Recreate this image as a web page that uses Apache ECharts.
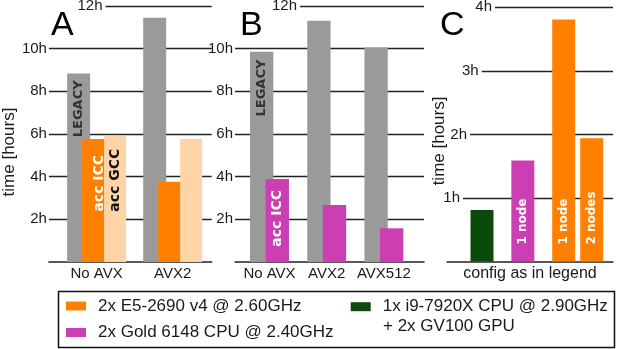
<!DOCTYPE html>
<html>
<head>
<meta charset="utf-8">
<script src="https://cdn.jsdelivr.net/npm/echarts@6/dist/echarts.min.js"></script>
<style>
html,body{margin:0;padding:0;background:#fff;}
#main{width:617px;height:349px;}
</style>
</head>
<body>
<div id="main"></div>
<script>
// panel A (2x E5-2690 v4)
const aCats = ['No AVX', 'AVX2'];
const aLegacy = [8.84, 11.45];
const aIcc = [5.77, 3.76];
const aGcc = [5.92, 5.77];
// panel B (2x Gold 6148)
const bCats = ['No AVX', 'AVX2', 'AVX512'];
const bLegacy = [9.86, 11.31, 10.05];
const bIcc = [3.89, 2.67, 1.58];
// panel C (best of each config)
const cCats = ['gpu', 'gold', 'e5'];
const cGpu = [0.81];
const cGold = [1.59];
const cE5 = [3.81, 1.94]; // 1 node, 2 nodes
const cTicks = [1, 2, 3, 4];

const nE5 = '2x E5-2690 v4 @ 2.60GHz';
const nGold = '2x Gold 6148 CPU @ 2.40GHz';
const nGpu = '1x i9-7920X CPU @ 2.90GHz';
const nGpu2 = '+ 2x GV100 GPU';

const cGray = '#9a9a9a', cOrange = '#ff8000', cPeach = '#ffd4a6', cMag = '#cc3fb2', cGreen = '#0b4a0b';
const ink = '#1a1a1a';
const font = "'Liberation Sans', Arial, sans-serif";
const barFont = "'DejaVu Sans', sans-serif";

// layout (px)
const PA = {left: 42, width: 169.7, top: 6, height: 256, c0: 91.7, sp: 79.3, lineStart: [101]};
const PB = {left: 235, width: 189, top: 6, height: 256, c0: 269.5, sp: 57.2, lineStart: [300]};
const PC = {left: 447, width: 166, top: 7.3, height: 254.3, c0: 496, sp: 40.85, lineStart: [463, 470, 481.7, 495]};
[PA, PB, PC].forEach(p => {
  p.min = -(p.c0 - p.left) / p.sp;
  p.max = p.min + p.width / p.sp;
});
const pxToX = (p, px) => p.min + (px - p.left) / p.sp;

// grid lines that start right of their label (drawn on an empty line series)
function gridLines(p, ticks, gi) {
  return {
    type: 'line', xAxisIndex: gi, yAxisIndex: gi, data: [], silent: true, animation: false,
    markLine: {
      silent: true, symbol: ['none', 'none'], z: 1, animation: false,
      lineStyle: {color: '#222', width: 1.3, type: 'solid'},
      label: {show: true, position: 'start', distance: 3, color: ink, fontSize: 15, fontFamily: font},
      data: ticks.map((t, i) => [
        {coord: [pxToX(p, p.lineStart[i]), t], label: {formatter: t + 'h'}},
        {coord: [p.max, t]}
      ])
    }
  };
}

function rotLabel(text, pos, dist, color, size) {
  return {
    show: true, formatter: text, position: pos, rotate: 90,
    align: pos === 'insideTop' ? 'right' : 'left', verticalAlign: 'middle',
    distance: dist, color: color, fontSize: size, fontWeight: 'bold', fontFamily: barFont
  };
}

function xAxis(p, cats, gi) {
  return {
    type: 'value', gridIndex: gi, min: p.min, max: p.max,
    splitLine: {show: false}, axisTick: {show: false},
    axisLine: {lineStyle: {color: '#222', width: 1.5}},
    axisLabel: cats ? {
      customValues: cats.map((c, i) => i), formatter: v => cats[Math.round(v)],
      color: ink, fontSize: 15, margin: 4, fontFamily: font
    } : {show: false}
  };
}

function yAxis(max, interval, gi, withLabels, name, nameGap, shift) {
  return {
    type: 'value', gridIndex: gi, min: 0, max: max, interval: interval,
    name: name, nameLocation: 'middle', nameGap: nameGap,
    nameTextStyle: {color: ink, fontSize: 17, fontFamily: font, padding: [0, shift, 0, 0]},
    axisLine: {show: false}, axisTick: {show: false},
    axisLabel: withLabels ? {
      formatter: '{value}h', showMinLabel: false, showMaxLabel: false,
      color: ink, fontSize: 15, margin: 2, fontFamily: font
    } : {show: false},
    splitLine: withLabels ? {
      show: true, showMinLine: false, showMaxLine: false,
      lineStyle: {color: '#222', width: 1.3}
    } : {show: false}
  };
}

const only = (idx, v, label) => cCats.map((c, i) => i === idx ? {value: [i, v], label: label} : {value: [i, '-']});

const bar = (o) => Object.assign({type: 'bar', animation: false, barMinWidth: o.barWidth}, o);

const titleStyle = {fontSize: 34, fontWeight: 'normal', color: '#000', fontFamily: font};

const option = {
  animation: false,
  textStyle: {fontFamily: font},
  title: [
    {text: 'A', left: 51, top: 9, padding: 0, textStyle: titleStyle},
    {text: 'B', left: 240, top: 9, padding: 0, textStyle: titleStyle},
    {text: 'C', left: 440, top: 9, padding: 0, textStyle: titleStyle},
    {text: nGpu2, left: 383, top: 318, padding: 0,
     textStyle: {fontSize: 17, fontWeight: 'normal', color: ink, fontFamily: font}}
  ],
  grid: [PA, PB, PC].map(p => ({left: p.left, top: p.top, width: p.width, height: p.height})),
  xAxis: [xAxis(PA, aCats, 0), xAxis(PB, bCats, 1), Object.assign(xAxis(PC, null, 2), {
    name: 'config as in legend', nameLocation: 'middle', nameGap: 4,
    nameTextStyle: {color: ink, fontSize: 16, fontFamily: font}
  })],
  yAxis: [
    yAxis(12, 2, 0, true, 'time [hours]', 26, 36),
    yAxis(12, 2, 1, true, '', 0, 0),
    yAxis(4, 1, 2, false, 'time [hours]', -1, 13)
  ],
  legend: [
    {data: [nE5, nGold], orient: 'vertical', left: 66, top: 297.5, padding: 0,
     itemWidth: 20, itemHeight: 9, itemGap: 9.5, icon: 'rect', selectedMode: false,
     textStyle: {color: ink, fontSize: 17, fontFamily: font, padding: [0, 0, 0, 7]}},
    {data: [nGpu], orient: 'vertical', left: 350.7, top: 298.2, padding: 0,
     itemWidth: 20, itemHeight: 9, icon: 'rect', selectedMode: false,
     textStyle: {color: ink, fontSize: 17, fontFamily: font, padding: [0, 0, 0, 7]}}
  ],
  graphic: [{
    type: 'rect', shape: {x: 58.5, y: 291.5, width: 556, height: 56},
    style: {fill: 'none', stroke: '#111', lineWidth: 1.5}, silent: true
  }],
  series: [
    // A
    bar({name: 'LEGACY', xAxisIndex: 0, yAxisIndex: 0, barWidth: 23, barGap: '-35%', color: cGray,
      data: aLegacy.map((v, i) => ({value: [i, v], label: i === 0 ? rotLabel('LEGACY', 'insideTop', 7, '#333', 13) : undefined}))}),
    bar({name: nE5, xAxisIndex: 0, yAxisIndex: 0, barWidth: 33.85, barGap: '-35%', color: cOrange,
      data: aIcc.map((v, i) => ({value: [i, v], label: i === 0 ? Object.assign(rotLabel('acc ICC', 'insideTop', 13, '#fff', 14), {offset: [-3, 0]}) : undefined}))}),
    bar({name: 'GCC', xAxisIndex: 0, yAxisIndex: 0, barWidth: 22, barGap: '-35%', color: cPeach,
      data: aGcc.map((v, i) => ({value: [i, v], label: i === 0 ? rotLabel('acc GCC', 'insideTop', 13, '#111', 14) : undefined}))}),
    gridLines(PA, [12], 0),
    // B
    bar({name: 'LEGACY', xAxisIndex: 1, yAxisIndex: 1, barWidth: 23.3, barGap: '-33%', color: cGray,
      data: bLegacy.map((v, i) => ({value: [i, v], label: i === 0 ? rotLabel('LEGACY', 'insideTop', 8, '#333', 13) : undefined}))}),
    bar({name: nGold, xAxisIndex: 1, yAxisIndex: 1, barWidth: 23.3, barGap: '-33%', color: cMag,
      data: bIcc.map((v, i) => ({value: [i, v], label: i === 0 ? rotLabel('acc ICC', 'insideTop', 11, '#fff', 14) : undefined}))}),
    gridLines(PB, [12], 1),
    // C
    bar({name: nGpu, xAxisIndex: 2, yAxisIndex: 2, stack: 'first', barWidth: 23, barGap: '21.7%', color: cGreen,
      data: only(0, cGpu[0])}),
    bar({name: nGold, xAxisIndex: 2, yAxisIndex: 2, stack: 'first', barWidth: 23, barGap: '21.7%', color: cMag,
      data: only(1, cGold[0], rotLabel('1 node', 'insideBottom', 17, '#fff', 12))}),
    bar({name: nE5, xAxisIndex: 2, yAxisIndex: 2, stack: 'first', barWidth: 23, barGap: '21.7%', color: cOrange,
      data: only(2, cE5[0], rotLabel('1 node', 'insideBottom', 17, '#fff', 12))}),
    bar({name: nE5, xAxisIndex: 2, yAxisIndex: 2, stack: 'second', barWidth: 23, barGap: '21.7%', color: cOrange,
      data: [{value: [2, cE5[1]], label: rotLabel('2 nodes', 'insideBottom', 17, '#fff', 12)}]}),
    gridLines(PC, cTicks, 2)
  ]
};

const chart = echarts.init(document.getElementById('main'), null, {renderer: 'canvas'});
chart.setOption(option);
window.addEventListener('resize', chart.resize);
</script>
</body>
</html>
